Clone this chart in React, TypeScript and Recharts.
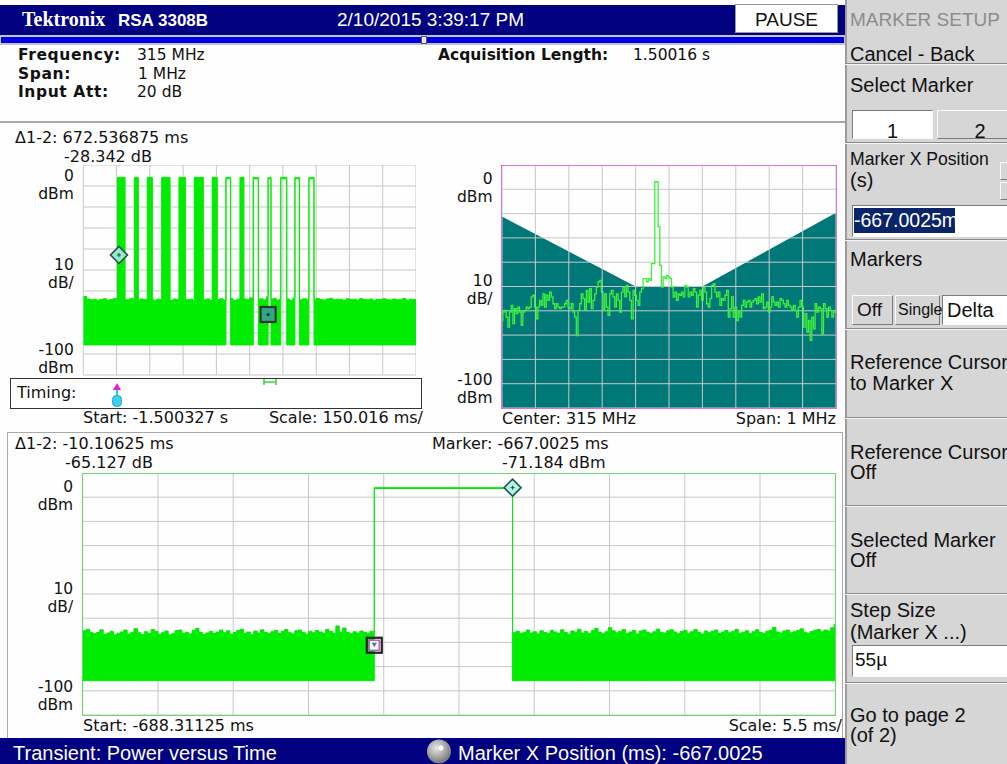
import React from 'react';
import { ComposedChart, Area, Line, XAxis, YAxis, CartesianGrid, ReferenceDot } from 'recharts';

const FONT = '"Liberation Sans", Arial, sans-serif';
const DJ = '"DejaVu Sans", Verdana, sans-serif';
const W = 1007;

// ---------- shared vertical scale (10 dB/div, ref 0 dBm) ----------
const Y_TICKS = [-100, -90, -80, -70, -60, -50, -40, -30, -20, -10, 0];
const Y_LABEL_VALUES = [-10, -50, -90];
const Y_LABEL_TOP = ['0', '10', '-100'];
const Y_LABEL_BOTTOM = ['dBm', 'dB/', 'dBm'];
const Y_LABEL_SHIFT = [-2, 3, 4];

// ---------- top-left overview: power vs time ----------
const TL_START = -1500.327;
const TL_SCALE = 150.016;
const TL_STEP = 15;
const TL_FLOOR = -85.7;
const TL_BURST_TOP = -5.9;
const TL_NOISE_TOP = [
  -62.6, -63.8, -64.2, -63.9, -64.4, -64.0, -63.7, -64.3, -64.1, -63.6,
  -64.5, -64.0, -63.9, -64.2, -63.5, -64.1, -64.6, -63.8, -64.0, -64.3,
  -63.7, -64.4, -63.9, -64.1, -63.4, -64.2, -64.5, -63.8, -64.0, -63.6,
  -64.3, -64.1, -63.9, -64.6, -64.0, -63.5, -64.2, -63.8, -64.4, -63.9,
  -64.1, -63.7, -64.3, -64.0, -63.6, -64.5, -63.9, -64.2, -63.8, -64.0,
  -63.3, -64.4, -64.1, -63.7, -64.2, -62.8, -64.0, -63.6, -64.3, -63.9,
  -64.1, -63.8, -64.5, -63.4, -64.0, -64.2, -63.7, -63.9, -64.4, -64.0,
  -63.6, -64.1, -64.3, -63.8, -63.5, -64.2, -63.9, -64.0, -64.4, -63.7,
  -64.1, -63.9, -64.3, -63.6, -64.0, -64.2, -63.8, -64.5, -63.9, -64.1,
  -63.7, -64.0, -64.3, -63.8, -64.2, -64.0, -63.6, -64.4, -63.9, -64.1,
  -64.2,
];
const TL_BURST_START = [-1346, -1270, -1212, -1147, -1069, -1000, -919, -857, -794, -734, -667.0025, -610, -546, -483];
const TL_BURST_END = [-1312, -1252, -1189, -1109, -1040, -959, -896, -836, -776, -711, -654, -583, -526, -460];
const TL_BURST_FILLED = [true, true, true, true, true, true, true, false, true, false, false, false, false, false];
const TL_M1 = { t: -1339.540625, db: -42.842 };
const TL_M2 = { t: -667.0025, db: -71.184 };

// ---------- spectrum ----------
const SPEC_START_KHZ = -500;
const SPEC_STEP_KHZ = 5;
const SPEC_LEVELS = [
  -64.0, -60.5, -59.8, -62.6, -66.7, -60.5, -57.8, -65.3, -59.1, -61.2,
  -58.5, -60.5, -66.0, -60.5, -59.8, -58.5, -59.1, -58.5, -54.3, -53.6,
  -58.5, -63.3, -58.5, -55.7, -57.8, -53.0, -58.5, -53.6, -55.7, -52.3,
  -54.3, -57.1, -59.1, -57.1, -58.5, -59.1, -58.5, -58.5, -57.1, -55.7,
  -58.5, -59.1, -57.1, -60.5, -62.6, -70.2, -59.8, -57.1, -53.0, -55.0,
  -59.8, -51.6, -56.4, -50.9, -59.1, -55.7, -53.0, -50.2, -48.1, -47.5,
  -52.3, -59.8, -53.0, -58.5, -61.9, -53.0, -51.6, -54.3, -58.5, -53.0,
  -55.7, -60.5, -52.3, -50.2, -54.3, -49.5, -52.3, -55.7, -63.3, -51.6,
  -53.6, -55.7, -57.8, -52.3, -50.9, -46.8, -46.8, -48.1, -46.8, -47.5,
  -40.6, -40.6, -6.9, -6.9, -25.4, -41.3, -50.2, -46.1, -46.8, -45.4,
  -46.1,
  -46.8, -50.2, -54.3, -52.3, -55.7, -53.0, -53.6, -52.3, -54.3, -49.5,
  -50.2, -54.3, -52.3, -53.6, -50.9, -52.3, -58.5, -53.6, -51.6, -55.7,
  -50.2, -52.3, -57.1, -58.5, -55.0, -49.5, -48.8, -52.3, -54.3, -52.3,
  -57.8, -55.0, -55.7, -53.6, -51.6, -62.6, -59.1, -54.3, -62.6, -58.5,
  -64.0, -60.5, -62.6, -57.8, -55.7, -58.5, -56.4, -55.7, -58.5, -56.4,
  -55.7, -55.0, -57.1, -54.3, -56.4, -53.0, -59.1, -58.5, -56.4, -60.5,
  -58.5, -54.3, -56.4, -57.8, -56.4, -58.5, -55.0, -55.7, -57.1, -58.5,
  -55.7, -57.8, -58.5, -59.8, -57.8, -59.8, -62.6, -58.5, -55.7, -58.5,
  -66.7, -61.2, -68.8, -64.0, -72.2, -62.6, -67.4, -57.1, -60.5, -58.5,
  -59.1, -69.5, -57.1, -59.1, -62.6, -58.5, -59.8, -62.6, -60.5, -59.8,
];
const MASK_F = [-500, -100, 100, 500];
const MASK_LEVEL = [-21.2, -50, -50, -19.6];

// ---------- bottom zoomed power vs time ----------
const BT_START = -688.31125;
const BT_SCALE = 5.5;
const BT_STEP = 0.25;
const BT_FLOOR = -85.8;
const BT_PULSE_START = -667.0025;
const BT_PULSE_END = -656.89625;
const BT_PULSE_LEVEL = -6.057;
const BL_NOISE = [
  -65.2, -64.6, -65.8, -66.4, -65.9, -64.8, -66.7, -66.1, -65.5, -66.9,
  -66.2, -65.7, -64.9, -66.5, -65.8, -64.3, -66.0, -66.8, -65.6, -66.3,
  -64.7, -65.4, -66.6, -66.0, -65.3, -66.9, -66.4, -65.1, -64.9, -66.2,
  -65.8, -66.5, -65.0, -64.2, -65.9, -66.7, -66.1, -65.4, -66.3, -65.7,
  -64.9, -66.0, -65.2, -66.6, -65.9, -65.1, -64.6, -66.2, -65.7, -66.8,
  -65.3, -66.1, -64.8, -65.9, -66.4, -65.6, -65.0, -66.3, -65.5, -64.7,
  -66.0, -66.5, -65.2, -64.9, -65.8, -66.6, -65.4, -66.0, -65.1, -65.7,
  -66.3, -64.6, -65.5, -66.2, -63.2, -65.8, -64.1, -65.9, -66.4, -65.6,
  -66.1, -65.3, -65.9, -66.2, -65.4, -65.8,
];
const BR_NOISE = [
  -66.0, -65.4, -66.3, -65.8, -64.9, -66.1, -65.6, -66.5, -65.2, -65.9,
  -66.4, -65.0, -65.7, -66.2, -64.8, -65.9, -66.6, -65.3, -65.8, -64.6,
  -66.1, -65.5, -66.3, -65.1, -64.2, -65.8, -66.4, -65.6, -63.9, -65.2,
  -66.0, -65.4, -64.7, -66.2, -65.7, -65.0, -66.5, -65.3, -64.9, -65.8,
  -66.3, -65.6, -64.5, -65.9, -66.1, -65.2, -64.8, -65.7, -66.4, -65.5,
  -65.0, -66.2, -65.6, -64.7, -65.9, -66.5, -65.3, -66.0, -65.4, -64.9,
  -66.3, -65.7, -65.1, -66.0, -65.5, -64.6, -66.2, -65.8, -65.2, -66.4,
  -65.6, -64.8, -65.9, -66.3, -65.4, -65.0, -63.8, -65.7, -66.1, -65.3,
  -64.9, -66.0, -65.6, -65.1, -64.4, -65.8, -66.2, -65.5, -65.0, -64.7,
  -65.6, -64.9, -65.3, -63.9, -62.6,
];
const BT_M1 = { t: BT_PULSE_END, db: BT_PULSE_LEVEL };
const BT_M2 = { t: BT_PULSE_START, db: -71.184 };

// ---------- derived tables ----------
const DIVS = [0, 1, 2, 3, 4, 5, 6, 7, 8, 9, 10];
const TL_END = TL_START + 10 * TL_SCALE;
const TL_X_TICKS = DIVS.map((k) => TL_START + k * TL_SCALE);
const BT_END = BT_START + 10 * BT_SCALE;
const BT_X_TICKS = DIVS.map((k) => BT_START + k * BT_SCALE);
const SPEC_X_TICKS = DIVS.map((k) => -500 + k * 100);

function buildTL() {
  const times: number[] = TL_NOISE_TOP.map((_, i) => TL_START + i * TL_STEP);
  TL_BURST_START.forEach((s, i) => times.push(s, TL_BURST_END[i]));
  times.push(TL_END);
  times.sort((a, b) => a - b);
  return times.map((t) => {
    const bi = TL_BURST_START.findIndex((s, i) => t >= s && t < TL_BURST_END[i]);
    if (bi >= 0) {
      return { t, range: TL_BURST_FILLED[bi] ? [TL_FLOOR, TL_BURST_TOP] : [TL_BURST_TOP - 0.7, TL_BURST_TOP] };
    }
    const idx = Math.min(TL_NOISE_TOP.length - 1, Math.max(0, Math.floor((t - TL_START) / TL_STEP)));
    return { t, range: [TL_FLOOR, TL_NOISE_TOP[idx]] };
  });
}
const TL_DATA = buildTL();

const SPEC_DATA = SPEC_LEVELS.map((v, i) => ({ f: SPEC_START_KHZ + i * SPEC_STEP_KHZ, v }));
const MASK_DATA = MASK_F.map((f, i) => ({ f, m: MASK_LEVEL[i] }));

const BT_DATA = [
  ...BL_NOISE.map((v, i) => ({ t: BT_START + i * BT_STEP, range: [BT_FLOOR, v] })),
  { t: BT_PULSE_START, range: [BT_PULSE_LEVEL - 0.35, BT_PULSE_LEVEL] },
  ...BR_NOISE.map((v, i) => ({ t: BT_PULSE_END + i * BT_STEP, range: [BT_FLOOR, v] })),
  { t: BT_END, range: [BT_FLOOR, BR_NOISE[BR_NOISE.length - 1]] },
];

// ---------- helpers ----------
// y = top of capital letters
function T(props: any) {
  const { x, y, size = 16, bold = false, color = '#111', anchor = 'start', family = DJ, children, cw = W, ls } = props;
  const capOff = props.capOff ?? (family === DJ ? 0.042 : family === FONT ? 0.0555 : 0.1);
  const style: React.CSSProperties = {
    position: 'absolute',
    top: y - capOff * size,
    fontSize: size,
    lineHeight: 0.85,
    whiteSpace: 'nowrap',
    fontWeight: bold ? 700 : 400,
    color,
    fontFamily: family,
    letterSpacing: ls,
  };
  if (anchor === 'end') style.right = cw - x;
  else if (anchor === 'middle') {
    style.left = x;
    style.transform = 'translateX(-50%)';
  } else style.left = x;
  return <div style={style}>{children}</div>;
}

function DbTick(props: any) {
  const { x, y, payload } = props;
  const li = Y_LABEL_VALUES.indexOf(payload.value);
  if (li < 0) return <g />;
  const c = y + Y_LABEL_SHIFT[li];
  const tx = x - 1.5;
  return (
    <g>
      <text x={tx} y={c - 3.2} textAnchor="end" fontFamily={DJ} fontSize={15.5} fill="#111">
        {Y_LABEL_TOP[li]}
      </text>
      <text x={tx} y={c + 14.9} textAnchor="end" fontFamily={DJ} fontSize={15.5} fill="#111">
        {Y_LABEL_BOTTOM[li]}
      </text>
    </g>
  );
}

function Diamond(fill: string, stroke: string, s: number) {
  return (p: any) => {
    const { cx, cy } = p;
    return (
      <g>
        <path d={`M${cx} ${cy - s}L${cx + s} ${cy}L${cx} ${cy + s}L${cx - s} ${cy}Z`} fill={fill} stroke={stroke} strokeWidth={1.6} />
        <path d={`M${cx - 2} ${cy}H${cx + 2}M${cx} ${cy - 2}V${cy + 2}`} stroke="#234" strokeWidth={0.9} />
      </g>
    );
  };
}
function TLSquare(p: any) {
  const { cx, cy } = p;
  return (
    <g>
      <rect x={cx - 7.5} y={cy - 7.5} width={15} height={15} fill="#2fa886" stroke="#333" strokeWidth={2.2} />
      <circle cx={cx} cy={cy} r={1.6} fill="#123" />
    </g>
  );
}
function BTSquare(p: any) {
  const { cx, cy } = p;
  return (
    <g>
      <rect x={cx - 7.5} y={cy - 7.5} width={15} height={15} fill="none" stroke="#222" strokeWidth={2.2} />
      <rect x={cx - 5} y={cy - 5} width={10} height={10} fill="#eefaf4" stroke="#d24fd2" strokeWidth={1.4} />
      <path d={`M${cx - 2.5} ${cy - 2.5}H${cx + 2.5}L${cx} ${cy + 2}Z`} fill="#2a8a8a" />
    </g>
  );
}

function Sep({ y }: { y: number }) {
  return <div style={{ position: 'absolute', left: 0, top: y, width: 162, height: 0, borderTop: '1px solid #8a8a8a', borderBottom: '1px solid #f6f6f6' }} />;
}
function Btn({ x, y, w, h, white }: any) {
  const border = white
    ? { borderTop: '1px solid #7a7a7a', borderLeft: '1px solid #7a7a7a', borderRight: '1px solid #fafafa', borderBottom: '1px solid #fafafa' }
    : { borderTop: '1px solid #fafafa', borderLeft: '1px solid #fafafa', borderRight: '1px solid #7a7a7a', borderBottom: '1px solid #7a7a7a' };
  return <div style={{ position: 'absolute', left: x, top: y, width: w, height: h, boxSizing: 'border-box', background: white ? '#fff' : '#d6d6d6', ...border }} />;
}

export default function App() {
  return (
    <div style={{ position: 'absolute', left: 0, top: 0, width: W, height: 764, background: '#fefefe', overflow: 'hidden', fontFamily: FONT }}>
      {/* header */}
      <div style={{ position: 'absolute', left: 0, top: 5, width: 845, height: 30, background: '#000080' }} />
      <T x={22} y={13} size={20} bold family='"Liberation Serif", serif' color="#fff">Tektronix</T>
      <T x={118} y={15} size={17} bold family={FONT} color="#fff">RSA 3308B</T>
      <T x={337} y={13} size={19} family={FONT} color="#fff">2/10/2015 3:39:17 PM</T>
      <div style={{ position: 'absolute', left: 735, top: 4, width: 103, height: 29, background: '#fff', boxSizing: 'border-box', border: '1px solid #9a9a9a' }} />
      <T x={786.5} y={13} size={19} family={FONT} anchor="middle">PAUSE</T>
      <div style={{ position: 'absolute', left: 0, top: 35, width: 845, height: 10, background: '#c4c4c4' }} />
      <div style={{ position: 'absolute', left: 1, top: 37, width: 420, height: 6, background: '#0000e6' }} />
      <div style={{ position: 'absolute', left: 421, top: 36, width: 6, height: 8, boxSizing: 'border-box', border: '1px solid #555', background: '#e8e8e8' }} />
      <div style={{ position: 'absolute', left: 427, top: 37, width: 417, height: 6, background: '#0000e6' }} />

      {/* info */}
      <T x={18} y={50} size={15.5} bold ls={0.6}>Frequency:</T>
      <T x={137} y={50} size={15.5}>315 MHz</T>
      <T x={18} y={68.2} size={15.5} bold ls={0.6}>Span:</T>
      <T x={138} y={68.2} size={15.5}>1 MHz</T>
      <T x={18} y={86.4} size={15.5} bold ls={0.6}>Input Att:</T>
      <T x={137} y={86.4} size={15.5}>20 dB</T>
      <T x={438} y={50} size={15.5} bold>Acquisition Length:</T>
      <T x={633} y={50} size={15.5}>1.50016 s</T>
      <div style={{ position: 'absolute', left: 0, top: 121, width: 845, height: 2, background: '#a8a8a8' }} />

      {/* top-left overview */}
      <T x={15} y={131.5}>Δ1-2: 672.536875 ms</T>
      <T x={64} y={150.3}>-28.342 dB</T>
      <div style={{ position: 'absolute', left: 0, top: 165 }}>
        <ComposedChart width={416} height={216} data={TL_DATA} margin={{ top: 0, right: 0, bottom: 6, left: 0 }}>
          <CartesianGrid stroke="#c8c8c8" />
          <XAxis type="number" dataKey="t" domain={[TL_START, TL_END]} ticks={TL_X_TICKS} interval={0} hide allowDataOverflow />
          <YAxis type="number" domain={[-100, 0]} ticks={Y_TICKS} width={83.3} axisLine={false} tickLine={false} tick={DbTick} interval={0} allowDataOverflow />
          <Area type="stepAfter" dataKey="range" stroke="#00ec00" strokeWidth={1} fill="#00ec00" fillOpacity={1} isAnimationActive={false} dot={false} activeDot={false} />
          <ReferenceDot x={TL_M1.t} y={TL_M1.db} shape={Diamond('#8fecc8', '#244c4c', 8.5)} />
          <ReferenceDot x={TL_M2.t} y={TL_M2.db} shape={TLSquare} />
        </ComposedChart>
      </div>
      <div style={{ position: 'absolute', left: 10, top: 377.5, width: 412, height: 31, boxSizing: 'border-box', border: '1.5px solid #333', background: '#fff' }} />
      <T x={17} y={387}>Timing:</T>
      <svg style={{ position: 'absolute', left: 0, top: 370 }} width={420} height={40}>
        <path d="M113 20L117 13L121 20Z" fill="#e020e0" />
        <path d="M117 20V26" stroke="#30c8e8" strokeWidth={2} />
        <rect x={112.5} y={25.5} width={9} height={11} rx={4} fill="#40d0f0" stroke="#20a8c8" strokeWidth={1} />
        <path d="M264 9V15M276 9V15M264 12H276" stroke="#3ed83e" strokeWidth={1.6} />
      </svg>
      <T x={83} y={412}>Start: -1.500327 s</T>
      <T x={423} y={412} anchor="end">Scale: 150.016 ms/</T>

      {/* spectrum */}
      <div style={{ position: 'absolute', left: 420, top: 165 }}>
        <ComposedChart width={416} height={249} data={MASK_DATA} margin={{ top: 0, right: 0, bottom: 6, left: 82 }}>
          <XAxis type="number" dataKey="f" domain={[-500, 500]} hide />
          <YAxis type="number" domain={[-100, 0]} hide />
          <Area type="linear" dataKey="m" baseValue={-100} fill="#007878" fillOpacity={1} stroke="none" isAnimationActive={false} dot={false} activeDot={false} />
        </ComposedChart>
      </div>
      <div style={{ position: 'absolute', left: 420, top: 165 }}>
        <ComposedChart width={416} height={249} data={SPEC_DATA} margin={{ top: 0, right: 0, bottom: 6, left: 0 }}>
          <CartesianGrid stroke="#c8c8c8" />
          <XAxis type="number" dataKey="f" domain={[-500, 500]} ticks={SPEC_X_TICKS} interval={0} hide />
          <YAxis type="number" domain={[-100, 0]} ticks={Y_TICKS} width={82} axisLine={false} tickLine={false} tick={DbTick} interval={0} />
          <Line type="step" dataKey="v" stroke="#3cf03c" strokeWidth={1.3} dot={false} activeDot={false} isAnimationActive={false} />
        </ComposedChart>
      </div>
      <div style={{ position: 'absolute', left: 501, top: 164.5, width: 335.5, height: 244, boxSizing: 'border-box', border: '1.5px solid #d872e0' }} />
      <T x={502} y={413}>Center: 315 MHz</T>
      <T x={836} y={413} anchor="end">Span: 1 MHz</T>

      {/* bottom section */}
      <div style={{ position: 'absolute', left: 7, top: 432, width: 836, height: 306, boxSizing: 'border-box', borderTop: '1.5px solid #a8a8a8', borderLeft: '1.5px solid #a8a8a8', borderRight: '1.5px solid #a8a8a8' }} />
      <T x={15} y={438}>Δ1-2: -10.10625 ms</T>
      <T x={65} y={456.8}>-65.127 dB</T>
      <T x={432} y={438}>Marker: -667.0025 ms</T>
      <T x={502} y={456.8}>-71.184 dBm</T>
      <div style={{ position: 'absolute', left: 0, top: 473.3 }}>
        <ComposedChart width={835.3} height={246} data={BT_DATA} margin={{ top: 0, right: 0, bottom: 4, left: 0 }}>
          <CartesianGrid stroke="#c8c8c8" />
          <XAxis type="number" dataKey="t" domain={[BT_START, BT_END]} ticks={BT_X_TICKS} interval={0} hide allowDataOverflow />
          <YAxis type="number" domain={[-100, 0]} ticks={Y_TICKS} width={82.7} axisLine={false} tickLine={false} tick={DbTick} interval={0} allowDataOverflow />
          <Area type="stepAfter" dataKey="range" stroke="#00ec00" strokeWidth={1} fill="#00ec00" fillOpacity={1} isAnimationActive={false} dot={false} activeDot={false} />
          <ReferenceDot x={BT_M2.t} y={BT_M2.db} shape={BTSquare} />
          <ReferenceDot x={BT_M1.t} y={BT_M1.db} shape={Diamond('#b4f2e4', '#1f5656', 8.5)} />
        </ComposedChart>
      </div>
      <div style={{ position: 'absolute', left: 82, top: 472.8, width: 754, height: 243, boxSizing: 'border-box', border: '1.5px solid #6ad86a' }} />
      <T x={83} y={720}>Start: -688.31125 ms</T>
      <T x={842} y={720} anchor="end">Scale: 5.5 ms/</T>

      {/* status bar */}
      <div style={{ position: 'absolute', left: 0, top: 738, width: 845, height: 26, background: '#000080' }} />
      <T x={13} y={746} size={20} family={FONT} color="#fff">Transient: Power versus Time</T>
      <svg style={{ position: 'absolute', left: 426, top: 739 }} width={26} height={25}>
        <defs>
          <radialGradient id="knob" cx="0.4" cy="0.35" r="0.7">
            <stop offset="0" stopColor="#e8e8e8" />
            <stop offset="1" stopColor="#707070" />
          </radialGradient>
        </defs>
        <circle cx={13} cy={12.5} r={12} fill="url(#knob)" />
        <circle cx={15} cy={9} r={2.5} fill="#fff" />
      </svg>
      <T x={458} y={746} size={20} family={FONT} color="#fff">Marker X Position (ms): -667.0025</T>

      {/* right menu panel */}
      <div style={{ position: 'absolute', left: 845, top: 0, width: 162, height: 764, background: '#d6d6d6', overflow: 'hidden', fontFamily: FONT }}>
        <div style={{ position: 'absolute', left: 0, top: 0, width: 2, height: 764, background: '#9c9c9c' }} />
        <T x={5} y={13.5} size={19} family={FONT} color="#8c8c8c" cw={162}>MARKER SETUP</T>
        <T x={5} y={47} size={20} family={FONT} cw={162}>Cancel - Back</T>
        <Sep y={63} />
        <T x={5} y={78} size={20} family={FONT} cw={162}>Select Marker</T>
        <Btn x={7} y={110} w={81} h={29} white />
        <T x={47.5} y={124} size={20} family={FONT} anchor="middle" cw={162}>1</T>
        <Btn x={92} y={110} w={72} h={29} />
        <T x={135} y={124} size={20} family={FONT} anchor="middle" cw={162}>2</T>
        <Sep y={142} />
        <T x={5} y={152.5} size={17.6} family={FONT} cw={162}>Marker X Position</T>
        <T x={5} y={173} size={20} family={FONT} cw={162}>(s)</T>
        <Btn x={155} y={162} w={9} h={18} />
        <Btn x={155} y={182} w={9} h={18} />
        <Btn x={7} y={205} w={157} h={32} white />
        <div style={{ position: 'absolute', left: 9, top: 208, width: 101, height: 25, background: '#0a246a' }} />
        <T x={9} y={213} size={19.5} family={FONT} color="#fff" cw={162}>-667.0025m</T>
        <Sep y={239} />
        <T x={5} y={252} size={20} family={FONT} cw={162}>Markers</T>
        <Btn x={7} y={295} w={41} h={30} />
        <T x={12} y={303} size={19} family={FONT} cw={162}>Off</T>
        <Btn x={50} y={295} w={45} h={30} />
        <T x={53} y={304} size={16} family={FONT} cw={162}>Single</T>
        <Btn x={97} y={295} w={70} h={30} white />
        <T x={102} y={303} size={20} family={FONT} cw={162}>Delta</T>
        <Sep y={328} />
        <T x={5} y={355} size={20} family={FONT} cw={162}>Reference Cursor</T>
        <T x={5} y={376} size={20} family={FONT} cw={162}>to Marker X</T>
        <Sep y={417} />
        <T x={5} y={445} size={20} family={FONT} cw={162}>Reference Cursor</T>
        <T x={5} y={465} size={20} family={FONT} cw={162}>Off</T>
        <Sep y={505} />
        <T x={5} y={533} size={20} family={FONT} cw={162}>Selected Marker</T>
        <T x={5} y={553} size={20} family={FONT} cw={162}>Off</T>
        <Sep y={593} />
        <T x={5} y={603} size={20} family={FONT} cw={162}>Step Size</T>
        <T x={5} y={625} size={20} family={FONT} cw={162}>(Marker X ...)</T>
        <Btn x={7} y={645} w={157} h={32} white />
        <T x={10} y={653} size={19} family={FONT} cw={162}>55µ</T>
        <Sep y={682} />
        <T x={5} y={708} size={20} family={FONT} cw={162}>Go to page 2</T>
        <T x={5} y={728} size={20} family={FONT} cw={162}>(of 2)</T>
      </div>
    </div>
  );
}
